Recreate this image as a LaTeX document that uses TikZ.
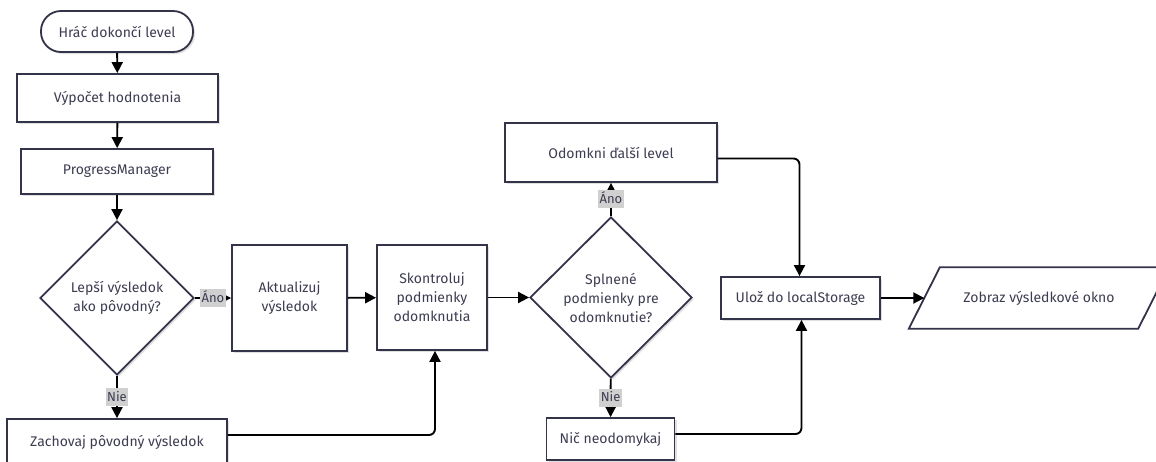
\documentclass[tikz,border=0pt]{standalone}
\usepackage{fontspec}
\setmainfont{Fira Sans}
\usetikzlibrary{arrows.meta,shapes.geometric,shadows,backgrounds}
\definecolor{edgec}{HTML}{33334A}
\definecolor{ink}{HTML}{3D3D52}
\definecolor{tagc}{HTML}{D0D0D0}
\begin{document}
\begin{tikzpicture}[x=1pt,y=-1pt,
  every node/.style={font=\fontsize{14}{19}\selectfont, text=ink},
  box/.style={draw=edgec, line width=1.8pt, fill=white, align=center, inner sep=0pt,
    drop shadow={shadow xshift=2pt, shadow yshift=-2pt, fill=black, opacity=0.12}},
  decision/.style={box, diamond, aspect=1},
  flow/.style={line width=1.9pt, draw=black, -{Triangle[length=11pt,width=11pt]}},
  tag/.style={fill=tagc, inner xsep=1.5pt, inner ysep=2pt, text height=11pt, text depth=3pt,
    font=\fontsize{13}{15}\selectfont, text=ink}]
\useasboundingbox (0,0) rectangle (1156,461);

% process nodes
\node[box, rounded corners=20pt, minimum width=152pt, minimum height=41pt] (start) at (117,31.5) {Hráč dokončí level};
\node[box, minimum width=201pt, minimum height=48pt] (calc) at (117.5,98) {Výpočet hodnotenia};
\node[box, minimum width=192pt, minimum height=45pt] (pm) at (117,171.5) {ProgressManager};
\node[decision, minimum width=154pt, minimum height=154pt] (better) at (117,298) {Lepší výsledok\\ako pôvodný?};
\node[box, minimum width=115pt, minimum height=106pt] (upd) at (289.5,298) {Aktualizuj\\výsledok};
\node[box, minimum width=220pt, minimum height=46pt] (keep) at (117,442) {Zachovaj pôvodný výsledok};
\node[box, minimum width=110pt, minimum height=105pt] (check) at (432,297.5) {Skontroluj\\podmienky\\odomknutia};
\node[decision, minimum width=162pt, minimum height=161pt] (cond) at (611,297.5) {Splnené\\podmienky pre\\odomknutie?};
\node[box, minimum width=212pt, minimum height=59pt] (unlock) at (611,152.5) {Odomkni ďalší level};
\node[box, minimum width=128pt, minimum height=42pt] (none) at (610.5,439) {Nič neodomykaj};
\node[box, minimum width=159pt, minimum height=42pt] (save) at (800.5,298) {Ulož do localStorage};

% output parallelogram
\node[inner sep=0pt, minimum width=229pt, minimum height=61pt] (show) at (1039,298) {Zobraz výsledkové okno};
\begin{pgfonlayer}{background}
  \fill[black, opacity=0.12, shift={(2pt,-2pt)}]
    ([xshift=-15.5pt]show.south west) -- ([xshift=15.5pt]show.north west)
    -- ([xshift=15.5pt]show.north east) -- ([xshift=-15.5pt]show.south east) -- cycle;
  \draw[draw=edgec, line width=1.8pt, fill=white]
    ([xshift=-15.5pt]show.south west) -- ([xshift=15.5pt]show.north west)
    -- ([xshift=15.5pt]show.north east) -- ([xshift=-15.5pt]show.south east) -- cycle;
\end{pgfonlayer}

% connectors
\draw[flow] (start) -- (calc);
\draw[flow] (calc) -- (pm);
\draw[flow] (pm) -- (better);
\draw[flow] (better) -- node[tag] {Áno} (upd);
\draw[flow] (better) -- node[tag] {Nie} (keep);
\draw[flow] (upd) -- (check);
\draw[flow, rounded corners=6pt] ([yshift=7pt]keep.east) -| ([xshift=3pt]check.south);
\draw[flow] (check) -- (cond);
\draw[flow] (cond) -- node[tag] {Áno} (unlock);
\draw[flow] (cond) -- node[tag] {Nie} (none);
\draw[flow, rounded corners=6pt] ([yshift=-6pt]unlock.east) -| ([xshift=-1pt]save.north);
\draw[flow, rounded corners=6pt] ([yshift=5pt]none.east) -| ([xshift=1pt]save.south);
\draw[flow] (save) -- (show);
\end{tikzpicture}
\end{document}
